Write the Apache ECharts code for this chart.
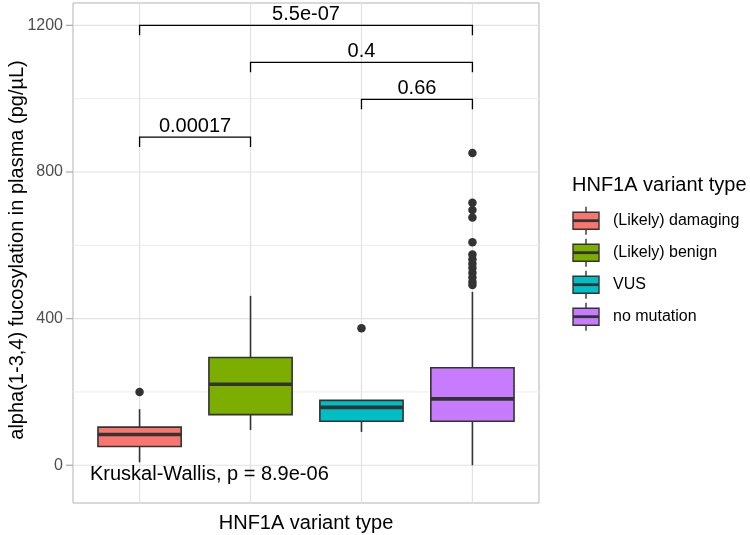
<!DOCTYPE html>
<html><head><meta charset="utf-8">
<script src="https://cdn.jsdelivr.net/npm/echarts@6/dist/echarts.min.js"></script>
<style>html,body{margin:0;padding:0;background:#fff}#c{width:750px;height:535px}</style>
</head><body><div id="c"></div>
<script>
// ---- data ----
const categories = ['(Likely) damaging', '(Likely) benign', 'VUS', 'no mutation'];
const whiskerLow  = [8, 96, 91, 0];
const q1          = [51, 138, 120, 120];
const median      = [84, 221, 158, 181];
const q3          = [104, 294, 177, 266];
const whiskerHigh = [153, 462, 177, 473];
const outliersDamaging = [200];
const outliersBenign = [];
const outliersVUS = [374];
const outliersNoMutation = [852, 716, 696, 676, 608, 575, 562, 550, 538, 525, 512, 500, 492];
const yMajorTicks = [0, 400, 800, 1200];
const yMinorTicks = [200, 600, 1000];
const comparisonPairs = [[0, 1], [2, 3], [1, 3], [0, 3]];
const comparisonY = [895, 998, 1099, 1200];
const comparisonLabels = ['0.00017', '0.66', '0.4', '5.5e-07'];
const overallTestLabel = 'Kruskal-Wallis, p = 8.9e-06';
const overallTestPos = [-0.447, -24];
const xTitle = 'HNF1A variant type';
const yTitle = 'alpha(1-3,4) fucosylation in plasma (pg/µL)';
const legendTitle = 'HNF1A variant type';

// ---- style ----
const FONT = '"Liberation Sans", Arial, sans-serif';
const fills = ['#F8766D', '#7CAE00', '#00BFC4', '#C77CFF'];
const STROKE = '#333333';
const TIP = 27;

const outlierGroups = [outliersDamaging, outliersBenign, outliersVUS, outliersNoMutation];
const outlierData = [];
outlierGroups.forEach((g, i) => g.forEach(v => outlierData.push([i, v])));
const boxData = categories.map((c, i) => [i, whiskerLow[i], q1[i], median[i], q3[i], whiskerHigh[i]]);

function hLine(color, width, tick) {
  return function (p, api) {
    const y = api.coord([0, api.value(1)])[1];
    const cs = p.coordSys;
    const children = [{ type: 'line', shape: { x1: cs.x, y1: y, x2: cs.x + cs.width, y2: y }, style: { stroke: color, lineWidth: width } }];
    if (tick) children.push({ type: 'line', shape: { x1: cs.x - 7, y1: y, x2: cs.x, y2: y }, style: { stroke: '#a8a8a8', lineWidth: 1.2 } });
    return { type: 'group', children: children };
  };
}
function vLine(color, width) {
  return function (p, api) {
    const x = api.coord([api.value(0), 0])[0];
    const cs = p.coordSys;
    return { type: 'line', shape: { x1: x, y1: cs.y, x2: x, y2: cs.y + cs.height }, style: { stroke: color, lineWidth: width } };
  };
}

function renderBox(p, api) {
  const i = api.value(0);
  const lo = api.coord([i, api.value(1)]);
  const a = api.coord([i, api.value(2)]);
  const m = api.coord([i, api.value(3)]);
  const b = api.coord([i, api.value(4)]);
  const hi = api.coord([i, api.value(5)]);
  const w = api.size([0.75, 0])[0];
  const x = lo[0];
  return { type: 'group', children: [
    { type: 'line', shape: { x1: x, y1: lo[1], x2: x, y2: a[1] }, style: { stroke: STROKE, lineWidth: 1.6 } },
    { type: 'line', shape: { x1: x, y1: b[1], x2: x, y2: hi[1] }, style: { stroke: STROKE, lineWidth: 1.6 } },
    { type: 'rect', shape: { x: x - w / 2, y: b[1], width: w, height: a[1] - b[1] }, style: { fill: fills[i], stroke: STROKE, lineWidth: 1.6 } },
    { type: 'line', shape: { x1: x - w / 2, y1: m[1], x2: x + w / 2, y2: m[1] }, style: { stroke: STROKE, lineWidth: 3.6 } }
  ] };
}

function renderBracket(p, api) {
  const k = api.value(3);
  const y = api.value(2);
  const p1 = api.coord([api.value(0), y]);
  const p2 = api.coord([api.value(1), y]);
  const ty = api.coord([api.value(0), y - TIP])[1];
  return { type: 'group', children: [
    { type: 'polyline', shape: { points: [[p1[0], ty], [p1[0], p1[1]], [p2[0], p2[1]], [p2[0], ty]] }, style: { stroke: '#000', lineWidth: 1.3, fill: null } },
    { type: 'text', x: (p1[0] + p2[0]) / 2, y: p1[1] - 1, style: { text: comparisonLabels[k], font: '20px ' + FONT, fill: '#000', align: 'center', verticalAlign: 'bottom' } }
  ] };
}

function renderOverall(p, api) {
  const pt = api.coord([api.value(0), api.value(1)]);
  return { type: 'text', x: pt[0], y: pt[1], style: { text: overallTestLabel, font: '20px ' + FONT, fill: '#000', align: 'left', verticalAlign: 'middle' } };
}

// titles + legend drawn as ggplot-style boxplot keys
const graphics = [
  { type: 'text', x: 17, y: 250, rotation: Math.PI / 2, style: { text: yTitle, font: '20px ' + FONT, fill: '#000', align: 'center', verticalAlign: 'middle' } },
  { type: 'text', x: 572, y: 185, style: { text: legendTitle, font: '20px ' + FONT, fill: '#000', verticalAlign: 'middle' } }
];
categories.forEach((c, i) => {
  const cy = 220.7 + i * 32;
  graphics.push({ type: 'group', x: 586, y: cy, children: [
    { type: 'line', shape: { x1: 0, y1: -14, x2: 0, y2: 14 }, style: { stroke: STROKE, lineWidth: 1.4 } },
    { type: 'rect', shape: { x: -13, y: -8.5, width: 26, height: 17 }, style: { fill: fills[i], stroke: STROKE, lineWidth: 1.4 } },
    { type: 'line', shape: { x1: -13, y1: 0, x2: 13, y2: 0 }, style: { stroke: STROKE, lineWidth: 2.8 } }
  ] });
  graphics.push({ type: 'text', x: 613, y: cy, style: { text: c, font: '16px ' + FONT, fill: '#000', verticalAlign: 'middle' } });
});

const chart = echarts.init(document.getElementById('c'), null, { renderer: 'canvas' });
chart.setOption({
  animation: false,
  backgroundColor: '#fff',
  grid: { left: 73, top: 3, right: 211, bottom: 32, containLabel: false, outerBoundsMode: 'none', show: true, borderColor: '#b3b3b3', borderWidth: 1, backgroundColor: 'transparent' },
  xAxis: {
    type: 'value', min: -0.6, max: 3.6,
    axisLine: { show: false }, axisTick: { show: false }, axisLabel: { show: false }, splitLine: { show: false },
    name: xTitle, nameLocation: 'middle', nameGap: 10,
    nameTextStyle: { fontFamily: FONT, fontSize: 20, color: '#000', verticalAlign: 'top' }
  },
  yAxis: {
    type: 'value', min: -103, max: 1261,
    axisLine: { show: false },
    axisTick: { show: false },
    axisLabel: { customValues: yMajorTicks, formatter: v => String(v), color: '#4d4d4d', fontFamily: FONT, fontSize: 16, margin: 10 },
    splitLine: { show: false }
  },
  graphic: graphics,
  series: [
    { type: 'custom', silent: true, z: 1, clip: false, data: yMinorTicks.map(v => [0, v]), encode: { x: 0, y: 1 }, renderItem: hLine('#ececec', 1, false) },
    { type: 'custom', silent: true, z: 1, clip: false, data: yMajorTicks.map(v => [0, v]), encode: { x: 0, y: 1 }, renderItem: hLine('#e2e2e2', 1.2, true) },
    { type: 'custom', silent: true, z: 1, data: categories.map((c, i) => [i, 0]), encode: { x: 0, y: 1 }, renderItem: vLine('#e2e2e2', 1.2) },
    { type: 'custom', silent: true, z: 2, data: boxData, encode: { x: 0, y: [1, 2, 3, 4, 5] }, renderItem: renderBox },
    { type: 'scatter', silent: true, z: 3, data: outlierData, symbolSize: 8.5, itemStyle: { color: STROKE, opacity: 1 } },
    { type: 'custom', silent: true, z: 4, data: comparisonPairs.map((pr, k) => [pr[0], pr[1], comparisonY[k], k]), encode: { x: [0, 1], y: 2 }, renderItem: renderBracket },
    { type: 'custom', silent: true, z: 4, data: [overallTestPos], encode: { x: 0, y: 1 }, renderItem: renderOverall }
  ]
});
</script>
</body></html>
